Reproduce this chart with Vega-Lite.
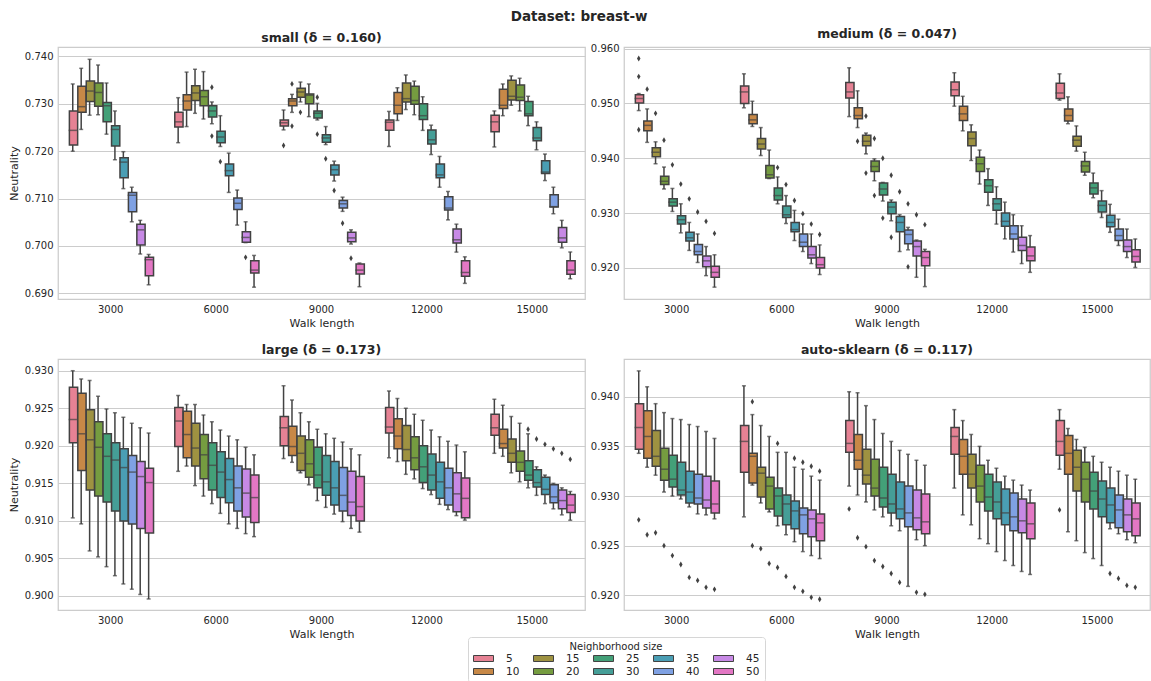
{
"$schema": "https://vega.github.io/schema/vega-lite/v6.json",
"background": "white",
"padding": {"left": 7, "top": 9, "right": 0, "bottom": 0},
"title": {"text": "Dataset: breast-w", "fontSize": 13.5, "fontWeight": "bold", "anchor": "middle", "offset": 4, "color": "#262626"},
"datasets": {
"box": [
{"p":"small","w":3000,"n":5,"lo":0.7200,"q1":0.7213,"md":0.7244,"q3":0.7285,"hi":0.7342},
{"p":"small","w":3000,"n":10,"lo":0.7246,"q1":0.7282,"md":0.7294,"q3":0.7337,"hi":0.7375},
{"p":"small","w":3000,"n":15,"lo":0.7276,"q1":0.7305,"md":0.7327,"q3":0.7348,"hi":0.7394},
{"p":"small","w":3000,"n":20,"lo":0.7277,"q1":0.7295,"md":0.7324,"q3":0.7344,"hi":0.7382},
{"p":"small","w":3000,"n":25,"lo":0.7236,"q1":0.7262,"md":0.7296,"q3":0.7303,"hi":0.7344},
{"p":"small","w":3000,"n":30,"lo":0.7182,"q1":0.7211,"md":0.7246,"q3":0.7254,"hi":0.7285},
{"p":"small","w":3000,"n":35,"lo":0.7121,"q1":0.7144,"md":0.7177,"q3":0.7186,"hi":0.7199},
{"p":"small","w":3000,"n":40,"lo":0.7051,"q1":0.7072,"md":0.7107,"q3":0.7113,"hi":0.7124},
{"p":"small","w":3000,"n":45,"lo":0.6983,"q1":0.7002,"md":0.7034,"q3":0.7046,"hi":0.7054},
{"p":"small","w":3000,"n":50,"lo":0.6918,"q1":0.6937,"md":0.6971,"q3":0.6976,"hi":0.6982},
{"p":"small","w":6000,"n":5,"lo":0.7218,"q1":0.7251,"md":0.7262,"q3":0.7282,"hi":0.7313},
{"p":"small","w":6000,"n":10,"lo":0.7252,"q1":0.7287,"md":0.7306,"q3":0.7319,"hi":0.7367},
{"p":"small","w":6000,"n":15,"lo":0.7280,"q1":0.7307,"md":0.7323,"q3":0.7338,"hi":0.7373},
{"p":"small","w":6000,"n":20,"lo":0.7268,"q1":0.7296,"md":0.7315,"q3":0.7328,"hi":0.7368},
{"p":"small","w":6000,"n":25,"lo":0.7258,"q1":0.7272,"md":0.7285,"q3":0.7296,"hi":0.7304},
{"p":"small","w":6000,"n":30,"lo":0.7210,"q1":0.7218,"md":0.7230,"q3":0.7242,"hi":0.7275},
{"p":"small","w":6000,"n":35,"lo":0.7113,"q1":0.7148,"md":0.7159,"q3":0.7173,"hi":0.7196},
{"p":"small","w":6000,"n":40,"lo":0.7044,"q1":0.7077,"md":0.7090,"q3":0.7101,"hi":0.7118},
{"p":"small","w":6000,"n":45,"lo":0.7007,"q1":0.7008,"md":0.7018,"q3":0.7030,"hi":0.7051},
{"p":"small","w":6000,"n":50,"lo":0.6913,"q1":0.6943,"md":0.6949,"q3":0.6969,"hi":0.6980},
{"p":"small","w":9000,"n":5,"lo":0.7245,"q1":0.7253,"md":0.7260,"q3":0.7266,"hi":0.7287},
{"p":"small","w":9000,"n":10,"lo":0.7282,"q1":0.7296,"md":0.7306,"q3":0.7311,"hi":0.7320},
{"p":"small","w":9000,"n":15,"lo":0.7304,"q1":0.7314,"md":0.7325,"q3":0.7333,"hi":0.7346},
{"p":"small","w":9000,"n":20,"lo":0.7273,"q1":0.7300,"md":0.7318,"q3":0.7321,"hi":0.7342},
{"p":"small","w":9000,"n":25,"lo":0.7266,"q1":0.7270,"md":0.7280,"q3":0.7285,"hi":0.7301},
{"p":"small","w":9000,"n":30,"lo":0.7214,"q1":0.7219,"md":0.7228,"q3":0.7235,"hi":0.7252},
{"p":"small","w":9000,"n":35,"lo":0.7137,"q1":0.7150,"md":0.7161,"q3":0.7171,"hi":0.7179},
{"p":"small","w":9000,"n":40,"lo":0.7073,"q1":0.7080,"md":0.7089,"q3":0.7096,"hi":0.7103},
{"p":"small","w":9000,"n":45,"lo":0.7004,"q1":0.7009,"md":0.7017,"q3":0.7029,"hi":0.7034},
{"p":"small","w":9000,"n":50,"lo":0.6914,"q1":0.6941,"md":0.6949,"q3":0.6962,"hi":0.6964},
{"p":"small","w":12000,"n":5,"lo":0.7210,"q1":0.7244,"md":0.7261,"q3":0.7266,"hi":0.7284},
{"p":"small","w":12000,"n":10,"lo":0.7265,"q1":0.7279,"md":0.7297,"q3":0.7324,"hi":0.7334},
{"p":"small","w":12000,"n":15,"lo":0.7288,"q1":0.7304,"md":0.7311,"q3":0.7344,"hi":0.7361},
{"p":"small","w":12000,"n":20,"lo":0.7277,"q1":0.7299,"md":0.7307,"q3":0.7337,"hi":0.7348},
{"p":"small","w":12000,"n":25,"lo":0.7244,"q1":0.7267,"md":0.7275,"q3":0.7300,"hi":0.7315},
{"p":"small","w":12000,"n":30,"lo":0.7193,"q1":0.7215,"md":0.7224,"q3":0.7245,"hi":0.7255},
{"p":"small","w":12000,"n":35,"lo":0.7124,"q1":0.7144,"md":0.7150,"q3":0.7173,"hi":0.7189},
{"p":"small","w":12000,"n":40,"lo":0.7055,"q1":0.7076,"md":0.7080,"q3":0.7104,"hi":0.7115},
{"p":"small","w":12000,"n":45,"lo":0.6987,"q1":0.7006,"md":0.7013,"q3":0.7036,"hi":0.7046},
{"p":"small","w":12000,"n":50,"lo":0.6921,"q1":0.6936,"md":0.6944,"q3":0.6969,"hi":0.6977},
{"p":"small","w":15000,"n":5,"lo":0.7209,"q1":0.7241,"md":0.7262,"q3":0.7276,"hi":0.7285},
{"p":"small","w":15000,"n":10,"lo":0.7275,"q1":0.7290,"md":0.7297,"q3":0.7331,"hi":0.7342},
{"p":"small","w":15000,"n":15,"lo":0.7297,"q1":0.7308,"md":0.7316,"q3":0.7350,"hi":0.7359},
{"p":"small","w":15000,"n":20,"lo":0.7285,"q1":0.7307,"md":0.7314,"q3":0.7340,"hi":0.7354},
{"p":"small","w":15000,"n":25,"lo":0.7254,"q1":0.7275,"md":0.7279,"q3":0.7305,"hi":0.7316},
{"p":"small","w":15000,"n":30,"lo":0.7203,"q1":0.7222,"md":0.7228,"q3":0.7250,"hi":0.7262},
{"p":"small","w":15000,"n":35,"lo":0.7138,"q1":0.7153,"md":0.7156,"q3":0.7180,"hi":0.7194},
{"p":"small","w":15000,"n":40,"lo":0.7068,"q1":0.7082,"md":0.7083,"q3":0.7108,"hi":0.7124},
{"p":"small","w":15000,"n":45,"lo":0.6996,"q1":0.7008,"md":0.7017,"q3":0.7039,"hi":0.7054},
{"p":"small","w":15000,"n":50,"lo":0.6931,"q1":0.6940,"md":0.6949,"q3":0.6969,"hi":0.6987},
{"p":"medium","w":3000,"n":5,"lo":0.9487,"q1":0.9501,"md":0.9509,"q3":0.9516,"hi":0.9518},
{"p":"medium","w":3000,"n":10,"lo":0.9429,"q1":0.9450,"md":0.9460,"q3":0.9468,"hi":0.9490},
{"p":"medium","w":3000,"n":15,"lo":0.9390,"q1":0.9403,"md":0.9411,"q3":0.9419,"hi":0.9430},
{"p":"medium","w":3000,"n":20,"lo":0.9344,"q1":0.9352,"md":0.9358,"q3":0.9367,"hi":0.9384},
{"p":"medium","w":3000,"n":25,"lo":0.9303,"q1":0.9313,"md":0.9320,"q3":0.9326,"hi":0.9345},
{"p":"medium","w":3000,"n":30,"lo":0.9264,"q1":0.9280,"md":0.9288,"q3":0.9295,"hi":0.9317},
{"p":"medium","w":3000,"n":35,"lo":0.9232,"q1":0.9249,"md":0.9255,"q3":0.9265,"hi":0.9283},
{"p":"medium","w":3000,"n":40,"lo":0.9210,"q1":0.9224,"md":0.9230,"q3":0.9243,"hi":0.9262},
{"p":"medium","w":3000,"n":45,"lo":0.9186,"q1":0.9202,"md":0.9213,"q3":0.9222,"hi":0.9239},
{"p":"medium","w":3000,"n":50,"lo":0.9165,"q1":0.9183,"md":0.9192,"q3":0.9203,"hi":0.9224},
{"p":"medium","w":6000,"n":5,"lo":0.9492,"q1":0.9500,"md":0.9521,"q3":0.9532,"hi":0.9554},
{"p":"medium","w":6000,"n":10,"lo":0.9458,"q1":0.9463,"md":0.9470,"q3":0.9480,"hi":0.9504},
{"p":"medium","w":6000,"n":15,"lo":0.9405,"q1":0.9417,"md":0.9426,"q3":0.9436,"hi":0.9456},
{"p":"medium","w":6000,"n":20,"lo":0.9363,"q1":0.9364,"md":0.9370,"q3":0.9387,"hi":0.9415},
{"p":"medium","w":6000,"n":25,"lo":0.9317,"q1":0.9324,"md":0.9332,"q3":0.9346,"hi":0.9366},
{"p":"medium","w":6000,"n":30,"lo":0.9281,"q1":0.9292,"md":0.9297,"q3":0.9313,"hi":0.9332},
{"p":"medium","w":6000,"n":35,"lo":0.9250,"q1":0.9266,"md":0.9270,"q3":0.9283,"hi":0.9305},
{"p":"medium","w":6000,"n":40,"lo":0.9230,"q1":0.9239,"md":0.9247,"q3":0.9262,"hi":0.9280},
{"p":"medium","w":6000,"n":45,"lo":0.9208,"q1":0.9218,"md":0.9224,"q3":0.9239,"hi":0.9262},
{"p":"medium","w":6000,"n":50,"lo":0.9188,"q1":0.9200,"md":0.9206,"q3":0.9219,"hi":0.9242},
{"p":"medium","w":9000,"n":5,"lo":0.9476,"q1":0.9510,"md":0.9521,"q3":0.9538,"hi":0.9565},
{"p":"medium","w":9000,"n":10,"lo":0.9456,"q1":0.9472,"md":0.9478,"q3":0.9492,"hi":0.9523},
{"p":"medium","w":9000,"n":15,"lo":0.9408,"q1":0.9423,"md":0.9431,"q3":0.9442,"hi":0.9446},
{"p":"medium","w":9000,"n":20,"lo":0.9359,"q1":0.9376,"md":0.9385,"q3":0.9395,"hi":0.9399},
{"p":"medium","w":9000,"n":25,"lo":0.9322,"q1":0.9333,"md":0.9344,"q3":0.9355,"hi":0.9356},
{"p":"medium","w":9000,"n":30,"lo":0.9286,"q1":0.9299,"md":0.9311,"q3":0.9320,"hi":0.9324},
{"p":"medium","w":9000,"n":35,"lo":0.9230,"q1":0.9266,"md":0.9283,"q3":0.9294,"hi":0.9297},
{"p":"medium","w":9000,"n":40,"lo":0.9233,"q1":0.9244,"md":0.9261,"q3":0.9269,"hi":0.9274},
{"p":"medium","w":9000,"n":45,"lo":0.9183,"q1":0.9222,"md":0.9239,"q3":0.9249,"hi":0.9251},
{"p":"medium","w":9000,"n":50,"lo":0.9166,"q1":0.9204,"md":0.9219,"q3":0.9230,"hi":0.9234},
{"p":"medium","w":12000,"n":5,"lo":0.9495,"q1":0.9514,"md":0.9525,"q3":0.9539,"hi":0.9556},
{"p":"medium","w":12000,"n":10,"lo":0.9450,"q1":0.9469,"md":0.9481,"q3":0.9495,"hi":0.9513},
{"p":"medium","w":12000,"n":15,"lo":0.9396,"q1":0.9423,"md":0.9436,"q3":0.9448,"hi":0.9461},
{"p":"medium","w":12000,"n":20,"lo":0.9353,"q1":0.9376,"md":0.9390,"q3":0.9402,"hi":0.9415},
{"p":"medium","w":12000,"n":25,"lo":0.9314,"q1":0.9338,"md":0.9350,"q3":0.9361,"hi":0.9381},
{"p":"medium","w":12000,"n":30,"lo":0.9280,"q1":0.9305,"md":0.9317,"q3":0.9326,"hi":0.9348},
{"p":"medium","w":12000,"n":35,"lo":0.9253,"q1":0.9276,"md":0.9285,"q3":0.9300,"hi":0.9320},
{"p":"medium","w":12000,"n":40,"lo":0.9229,"q1":0.9253,"md":0.9262,"q3":0.9277,"hi":0.9297},
{"p":"medium","w":12000,"n":45,"lo":0.9208,"q1":0.9232,"md":0.9241,"q3":0.9256,"hi":0.9277},
{"p":"medium","w":12000,"n":50,"lo":0.9192,"q1":0.9213,"md":0.9222,"q3":0.9238,"hi":0.9259},
{"p":"medium","w":15000,"n":5,"lo":0.9506,"q1":0.9509,"md":0.9519,"q3":0.9537,"hi":0.9554},
{"p":"medium","w":15000,"n":10,"lo":0.9463,"q1":0.9468,"md":0.9478,"q3":0.9490,"hi":0.9512},
{"p":"medium","w":15000,"n":15,"lo":0.9413,"q1":0.9422,"md":0.9433,"q3":0.9440,"hi":0.9459},
{"p":"medium","w":15000,"n":20,"lo":0.9369,"q1":0.9375,"md":0.9386,"q3":0.9394,"hi":0.9411},
{"p":"medium","w":15000,"n":25,"lo":0.9328,"q1":0.9335,"md":0.9346,"q3":0.9355,"hi":0.9373},
{"p":"medium","w":15000,"n":30,"lo":0.9292,"q1":0.9302,"md":0.9314,"q3":0.9322,"hi":0.9341},
{"p":"medium","w":15000,"n":35,"lo":0.9265,"q1":0.9275,"md":0.9283,"q3":0.9296,"hi":0.9316},
{"p":"medium","w":15000,"n":40,"lo":0.9241,"q1":0.9250,"md":0.9259,"q3":0.9271,"hi":0.9289},
{"p":"medium","w":15000,"n":45,"lo":0.9219,"q1":0.9230,"md":0.9239,"q3":0.9251,"hi":0.9271},
{"p":"medium","w":15000,"n":50,"lo":0.9201,"q1":0.9211,"md":0.9221,"q3":0.9233,"hi":0.9253},
{"p":"large","w":3000,"n":5,"lo":0.9104,"q1":0.9204,"md":0.9235,"q3":0.9278,"hi":0.9300},
{"p":"large","w":3000,"n":10,"lo":0.9096,"q1":0.9167,"md":0.9216,"q3":0.9270,"hi":0.9289},
{"p":"large","w":3000,"n":15,"lo":0.9060,"q1":0.9141,"md":0.9208,"q3":0.9248,"hi":0.9287},
{"p":"large","w":3000,"n":20,"lo":0.9052,"q1":0.9133,"md":0.9198,"q3":0.9232,"hi":0.9266},
{"p":"large","w":3000,"n":25,"lo":0.9039,"q1":0.9125,"md":0.9186,"q3":0.9216,"hi":0.9249},
{"p":"large","w":3000,"n":30,"lo":0.9027,"q1":0.9113,"md":0.9181,"q3":0.9204,"hi":0.9244},
{"p":"large","w":3000,"n":35,"lo":0.9016,"q1":0.9100,"md":0.9171,"q3":0.9196,"hi":0.9238},
{"p":"large","w":3000,"n":40,"lo":0.9009,"q1":0.9096,"md":0.9165,"q3":0.9187,"hi":0.9230},
{"p":"large","w":3000,"n":45,"lo":0.9002,"q1":0.9090,"md":0.9159,"q3":0.9179,"hi":0.9224},
{"p":"large","w":3000,"n":50,"lo":0.8996,"q1":0.9084,"md":0.9151,"q3":0.9170,"hi":0.9217},
{"p":"large","w":6000,"n":5,"lo":0.9166,"q1":0.9199,"md":0.9233,"q3":0.9251,"hi":0.9267},
{"p":"large","w":6000,"n":10,"lo":0.9173,"q1":0.9184,"md":0.9215,"q3":0.9246,"hi":0.9255},
{"p":"large","w":6000,"n":15,"lo":0.9147,"q1":0.9173,"md":0.9197,"q3":0.9230,"hi":0.9255},
{"p":"large","w":6000,"n":20,"lo":0.9133,"q1":0.9156,"md":0.9188,"q3":0.9215,"hi":0.9241},
{"p":"large","w":6000,"n":25,"lo":0.9123,"q1":0.9141,"md":0.9174,"q3":0.9204,"hi":0.9232},
{"p":"large","w":6000,"n":30,"lo":0.9110,"q1":0.9131,"md":0.9165,"q3":0.9192,"hi":0.9221},
{"p":"large","w":6000,"n":35,"lo":0.9096,"q1":0.9124,"md":0.9155,"q3":0.9183,"hi":0.9213},
{"p":"large","w":6000,"n":40,"lo":0.9090,"q1":0.9113,"md":0.9144,"q3":0.9173,"hi":0.9208},
{"p":"large","w":6000,"n":45,"lo":0.9083,"q1":0.9105,"md":0.9137,"q3":0.9169,"hi":0.9198},
{"p":"large","w":6000,"n":50,"lo":0.9079,"q1":0.9098,"md":0.9131,"q3":0.9161,"hi":0.9188},
{"p":"large","w":9000,"n":5,"lo":0.9183,"q1":0.9200,"md":0.9224,"q3":0.9239,"hi":0.9280},
{"p":"large","w":9000,"n":10,"lo":0.9178,"q1":0.9187,"md":0.9199,"q3":0.9226,"hi":0.9261},
{"p":"large","w":9000,"n":15,"lo":0.9164,"q1":0.9167,"md":0.9190,"q3":0.9213,"hi":0.9244},
{"p":"large","w":9000,"n":20,"lo":0.9148,"q1":0.9158,"md":0.9176,"q3":0.9208,"hi":0.9232},
{"p":"large","w":9000,"n":25,"lo":0.9127,"q1":0.9144,"md":0.9161,"q3":0.9198,"hi":0.9222},
{"p":"large","w":9000,"n":30,"lo":0.9118,"q1":0.9134,"md":0.9152,"q3":0.9187,"hi":0.9216},
{"p":"large","w":9000,"n":35,"lo":0.9109,"q1":0.9121,"md":0.9144,"q3":0.9179,"hi":0.9210},
{"p":"large","w":9000,"n":40,"lo":0.9099,"q1":0.9113,"md":0.9134,"q3":0.9171,"hi":0.9205},
{"p":"large","w":9000,"n":45,"lo":0.9090,"q1":0.9107,"md":0.9125,"q3":0.9166,"hi":0.9196},
{"p":"large","w":9000,"n":50,"lo":0.9085,"q1":0.9100,"md":0.9119,"q3":0.9159,"hi":0.9188},
{"p":"large","w":12000,"n":5,"lo":0.9184,"q1":0.9217,"md":0.9225,"q3":0.9251,"hi":0.9273},
{"p":"large","w":12000,"n":10,"lo":0.9179,"q1":0.9196,"md":0.9213,"q3":0.9236,"hi":0.9263},
{"p":"large","w":12000,"n":15,"lo":0.9162,"q1":0.9180,"md":0.9195,"q3":0.9227,"hi":0.9250},
{"p":"large","w":12000,"n":20,"lo":0.9156,"q1":0.9168,"md":0.9184,"q3":0.9212,"hi":0.9242},
{"p":"large","w":12000,"n":25,"lo":0.9143,"q1":0.9151,"md":0.9172,"q3":0.9200,"hi":0.9234},
{"p":"large","w":12000,"n":30,"lo":0.9135,"q1":0.9141,"md":0.9161,"q3":0.9189,"hi":0.9221},
{"p":"large","w":12000,"n":35,"lo":0.9122,"q1":0.9130,"md":0.9152,"q3":0.9178,"hi":0.9212},
{"p":"large","w":12000,"n":40,"lo":0.9115,"q1":0.9121,"md":0.9144,"q3":0.9170,"hi":0.9206},
{"p":"large","w":12000,"n":45,"lo":0.9107,"q1":0.9112,"md":0.9136,"q3":0.9164,"hi":0.9201},
{"p":"large","w":12000,"n":50,"lo":0.9101,"q1":0.9104,"md":0.9130,"q3":0.9157,"hi":0.9192},
{"p":"large","w":15000,"n":5,"lo":0.9190,"q1":0.9214,"md":0.9224,"q3":0.9242,"hi":0.9262},
{"p":"large","w":15000,"n":10,"lo":0.9186,"q1":0.9197,"md":0.9203,"q3":0.9222,"hi":0.9254},
{"p":"large","w":15000,"n":15,"lo":0.9164,"q1":0.9178,"md":0.9190,"q3":0.9209,"hi":0.9239},
{"p":"large","w":15000,"n":20,"lo":0.9152,"q1":0.9166,"md":0.9178,"q3":0.9193,"hi":0.9230},
{"p":"large","w":15000,"n":25,"lo":0.9144,"q1":0.9154,"md":0.9161,"q3":0.9180,"hi":0.9216},
{"p":"large","w":15000,"n":30,"lo":0.9134,"q1":0.9145,"md":0.9151,"q3":0.9168,"hi":0.9172},
{"p":"large","w":15000,"n":35,"lo":0.9123,"q1":0.9135,"md":0.9142,"q3":0.9158,"hi":0.9161},
{"p":"large","w":15000,"n":40,"lo":0.9116,"q1":0.9124,"md":0.9132,"q3":0.9148,"hi":0.9150},
{"p":"large","w":15000,"n":45,"lo":0.9108,"q1":0.9116,"md":0.9127,"q3":0.9141,"hi":0.9144},
{"p":"large","w":15000,"n":50,"lo":0.9101,"q1":0.9111,"md":0.9121,"q3":0.9135,"hi":0.9139},
{"p":"auto","w":3000,"n":5,"lo":0.9343,"q1":0.9347,"md":0.9369,"q3":0.9393,"hi":0.9426},
{"p":"auto","w":3000,"n":10,"lo":0.9329,"q1":0.9338,"md":0.9360,"q3":0.9386,"hi":0.9410},
{"p":"auto","w":3000,"n":15,"lo":0.9321,"q1":0.9330,"md":0.9340,"q3":0.9366,"hi":0.9393},
{"p":"auto","w":3000,"n":20,"lo":0.9304,"q1":0.9316,"md":0.9327,"q3":0.9348,"hi":0.9384},
{"p":"auto","w":3000,"n":25,"lo":0.9300,"q1":0.9309,"md":0.9317,"q3":0.9341,"hi":0.9378},
{"p":"auto","w":3000,"n":30,"lo":0.9297,"q1":0.9301,"md":0.9306,"q3":0.9334,"hi":0.9377},
{"p":"auto","w":3000,"n":35,"lo":0.9289,"q1":0.9293,"md":0.9304,"q3":0.9325,"hi":0.9372},
{"p":"auto","w":3000,"n":40,"lo":0.9282,"q1":0.9292,"md":0.9298,"q3":0.9322,"hi":0.9370},
{"p":"auto","w":3000,"n":45,"lo":0.9281,"q1":0.9288,"md":0.9296,"q3":0.9320,"hi":0.9365},
{"p":"auto","w":3000,"n":50,"lo":0.9277,"q1":0.9283,"md":0.9292,"q3":0.9315,"hi":0.9358},
{"p":"auto","w":6000,"n":5,"lo":0.9279,"q1":0.9324,"md":0.9355,"q3":0.9371,"hi":0.9411},
{"p":"auto","w":6000,"n":10,"lo":0.9311,"q1":0.9313,"md":0.9340,"q3":0.9343,"hi":0.9382},
{"p":"auto","w":6000,"n":15,"lo":0.9293,"q1":0.9299,"md":0.9323,"q3":0.9329,"hi":0.9371},
{"p":"auto","w":6000,"n":20,"lo":0.9284,"q1":0.9287,"md":0.9310,"q3":0.9319,"hi":0.9360},
{"p":"auto","w":6000,"n":25,"lo":0.9270,"q1":0.9280,"md":0.9300,"q3":0.9308,"hi":0.9344},
{"p":"auto","w":6000,"n":30,"lo":0.9261,"q1":0.9271,"md":0.9292,"q3":0.9301,"hi":0.9344},
{"p":"auto","w":6000,"n":35,"lo":0.9254,"q1":0.9267,"md":0.9285,"q3":0.9295,"hi":0.9329},
{"p":"auto","w":6000,"n":40,"lo":0.9244,"q1":0.9262,"md":0.9281,"q3":0.9288,"hi":0.9327},
{"p":"auto","w":6000,"n":45,"lo":0.9240,"q1":0.9259,"md":0.9277,"q3":0.9286,"hi":0.9320},
{"p":"auto","w":6000,"n":50,"lo":0.9237,"q1":0.9255,"md":0.9273,"q3":0.9282,"hi":0.9316},
{"p":"auto","w":9000,"n":5,"lo":0.9310,"q1":0.9344,"md":0.9353,"q3":0.9376,"hi":0.9405},
{"p":"auto","w":9000,"n":10,"lo":0.9301,"q1":0.9327,"md":0.9336,"q3":0.9362,"hi":0.9404},
{"p":"auto","w":9000,"n":15,"lo":0.9294,"q1":0.9312,"md":0.9321,"q3":0.9347,"hi":0.9391},
{"p":"auto","w":9000,"n":20,"lo":0.9286,"q1":0.9300,"md":0.9308,"q3":0.9337,"hi":0.9377},
{"p":"auto","w":9000,"n":25,"lo":0.9279,"q1":0.9289,"md":0.9298,"q3":0.9329,"hi":0.9363},
{"p":"auto","w":9000,"n":30,"lo":0.9270,"q1":0.9283,"md":0.9292,"q3":0.9322,"hi":0.9355},
{"p":"auto","w":9000,"n":35,"lo":0.9265,"q1":0.9277,"md":0.9287,"q3":0.9314,"hi":0.9346},
{"p":"auto","w":9000,"n":40,"lo":0.9209,"q1":0.9269,"md":0.9283,"q3":0.9310,"hi":0.9342},
{"p":"auto","w":9000,"n":45,"lo":0.9256,"q1":0.9266,"md":0.9278,"q3":0.9306,"hi":0.9336},
{"p":"auto","w":9000,"n":50,"lo":0.9250,"q1":0.9262,"md":0.9274,"q3":0.9302,"hi":0.9331},
{"p":"auto","w":12000,"n":5,"lo":0.9308,"q1":0.9342,"md":0.9360,"q3":0.9369,"hi":0.9387},
{"p":"auto","w":12000,"n":10,"lo":0.9281,"q1":0.9322,"md":0.9340,"q3":0.9357,"hi":0.9376},
{"p":"auto","w":12000,"n":15,"lo":0.9271,"q1":0.9308,"md":0.9322,"q3":0.9342,"hi":0.9362},
{"p":"auto","w":12000,"n":20,"lo":0.9257,"q1":0.9294,"md":0.9310,"q3":0.9331,"hi":0.9350},
{"p":"auto","w":12000,"n":25,"lo":0.9252,"q1":0.9285,"md":0.9299,"q3":0.9322,"hi":0.9336},
{"p":"auto","w":12000,"n":30,"lo":0.9244,"q1":0.9277,"md":0.9294,"q3":0.9314,"hi":0.9328},
{"p":"auto","w":12000,"n":35,"lo":0.9235,"q1":0.9271,"md":0.9283,"q3":0.9307,"hi":0.9320},
{"p":"auto","w":12000,"n":40,"lo":0.9230,"q1":0.9265,"md":0.9279,"q3":0.9303,"hi":0.9316},
{"p":"auto","w":12000,"n":45,"lo":0.9224,"q1":0.9263,"md":0.9275,"q3":0.9297,"hi":0.9311},
{"p":"auto","w":12000,"n":50,"lo":0.9221,"q1":0.9257,"md":0.9272,"q3":0.9293,"hi":0.9306},
{"p":"auto","w":15000,"n":5,"lo":0.9327,"q1":0.9341,"md":0.9355,"q3":0.9376,"hi":0.9387},
{"p":"auto","w":15000,"n":10,"lo":0.9264,"q1":0.9322,"md":0.9343,"q3":0.9361,"hi":0.9368},
{"p":"auto","w":15000,"n":15,"lo":0.9255,"q1":0.9305,"md":0.9329,"q3":0.9346,"hi":0.9357},
{"p":"auto","w":15000,"n":20,"lo":0.9243,"q1":0.9294,"md":0.9317,"q3":0.9334,"hi":0.9349},
{"p":"auto","w":15000,"n":25,"lo":0.9237,"q1":0.9287,"md":0.9305,"q3":0.9324,"hi":0.9340},
{"p":"auto","w":15000,"n":30,"lo":0.9230,"q1":0.9279,"md":0.9297,"q3":0.9315,"hi":0.9334},
{"p":"auto","w":15000,"n":35,"lo":0.9267,"q1":0.9273,"md":0.9291,"q3":0.9308,"hi":0.9329},
{"p":"auto","w":15000,"n":40,"lo":0.9262,"q1":0.9268,"md":0.9286,"q3":0.9301,"hi":0.9325},
{"p":"auto","w":15000,"n":45,"lo":0.9256,"q1":0.9264,"md":0.9281,"q3":0.9297,"hi":0.9321},
{"p":"auto","w":15000,"n":50,"lo":0.9253,"q1":0.9260,"md":0.9277,"q3":0.9293,"hi":0.9317}
],
"out": [
{"p":"small","w":6000,"n":25,"v":0.7335},{"p":"small","w":6000,"n":25,"v":0.7232},{"p":"small","w":6000,"n":30,"v":0.7178},{"p":"small","w":6000,"n":45,"v":0.6976},
{"p":"small","w":9000,"n":5,"v":0.7212},{"p":"small","w":9000,"n":10,"v":0.7342},{"p":"small","w":9000,"n":10,"v":0.7253},{"p":"small","w":9000,"n":15,"v":0.7282},{"p":"small","w":9000,"n":25,"v":0.7314},{"p":"small","w":9000,"n":25,"v":0.7236},{"p":"small","w":9000,"n":30,"v":0.7184},{"p":"small","w":9000,"n":35,"v":0.7117},{"p":"small","w":9000,"n":40,"v":0.7048},{"p":"small","w":9000,"n":45,"v":0.6974},
{"p":"medium","w":3000,"n":5,"v":0.9582},{"p":"medium","w":3000,"n":5,"v":0.9549},{"p":"medium","w":3000,"n":5,"v":0.9452},{"p":"medium","w":3000,"n":10,"v":0.9526},{"p":"medium","w":3000,"n":15,"v":0.9482},{"p":"medium","w":3000,"n":20,"v":0.9433},{"p":"medium","w":3000,"n":25,"v":0.9388},{"p":"medium","w":3000,"n":30,"v":0.9353},{"p":"medium","w":3000,"n":35,"v":0.9326},{"p":"medium","w":3000,"n":40,"v":0.9302},{"p":"medium","w":3000,"n":45,"v":0.9285},{"p":"medium","w":3000,"n":50,"v":0.9263},
{"p":"medium","w":6000,"n":25,"v":0.9383},{"p":"medium","w":6000,"n":30,"v":0.9352},{"p":"medium","w":6000,"n":35,"v":0.9323},{"p":"medium","w":6000,"n":40,"v":0.9299},{"p":"medium","w":6000,"n":45,"v":0.9280},{"p":"medium","w":6000,"n":50,"v":0.9261},
{"p":"medium","w":9000,"n":10,"v":0.9431},{"p":"medium","w":9000,"n":15,"v":0.9477},{"p":"medium","w":9000,"n":15,"v":0.9373},{"p":"medium","w":9000,"n":20,"v":0.9436},{"p":"medium","w":9000,"n":20,"v":0.9332},{"p":"medium","w":9000,"n":25,"v":0.9400},{"p":"medium","w":9000,"n":25,"v":0.9291},{"p":"medium","w":9000,"n":30,"v":0.9369},{"p":"medium","w":9000,"n":30,"v":0.9256},{"p":"medium","w":9000,"n":35,"v":0.9339},{"p":"medium","w":9000,"n":40,"v":0.9317},{"p":"medium","w":9000,"n":40,"v":0.9202},{"p":"medium","w":9000,"n":45,"v":0.9297},{"p":"medium","w":9000,"n":50,"v":0.9279},
{"p":"large","w":15000,"n":25,"v":0.9222},{"p":"large","w":15000,"n":30,"v":0.9209},{"p":"large","w":15000,"n":35,"v":0.9202},{"p":"large","w":15000,"n":40,"v":0.9196},{"p":"large","w":15000,"n":45,"v":0.9190},{"p":"large","w":15000,"n":50,"v":0.9182},
{"p":"auto","w":3000,"n":5,"v":0.9276},{"p":"auto","w":3000,"n":10,"v":0.9261},{"p":"auto","w":3000,"n":15,"v":0.9263},{"p":"auto","w":3000,"n":20,"v":0.9250},{"p":"auto","w":3000,"n":25,"v":0.9240},{"p":"auto","w":3000,"n":30,"v":0.9231},{"p":"auto","w":3000,"n":35,"v":0.9218},{"p":"auto","w":3000,"n":40,"v":0.9215},{"p":"auto","w":3000,"n":45,"v":0.9208},{"p":"auto","w":3000,"n":50,"v":0.9206},
{"p":"auto","w":6000,"n":10,"v":0.9395},{"p":"auto","w":6000,"n":10,"v":0.9250},{"p":"auto","w":6000,"n":15,"v":0.9247},{"p":"auto","w":6000,"n":20,"v":0.9232},{"p":"auto","w":6000,"n":25,"v":0.9353},{"p":"auto","w":6000,"n":25,"v":0.9228},{"p":"auto","w":6000,"n":30,"v":0.9219},{"p":"auto","w":6000,"n":35,"v":0.9338},{"p":"auto","w":6000,"n":35,"v":0.9208},{"p":"auto","w":6000,"n":40,"v":0.9334},{"p":"auto","w":6000,"n":40,"v":0.9204},{"p":"auto","w":6000,"n":45,"v":0.9330},{"p":"auto","w":6000,"n":45,"v":0.9198},{"p":"auto","w":6000,"n":50,"v":0.9325},{"p":"auto","w":6000,"n":50,"v":0.9196},
{"p":"auto","w":9000,"n":5,"v":0.9287},{"p":"auto","w":9000,"n":10,"v":0.9258},{"p":"auto","w":9000,"n":15,"v":0.9249},{"p":"auto","w":9000,"n":20,"v":0.9235},{"p":"auto","w":9000,"n":25,"v":0.9229},{"p":"auto","w":9000,"n":30,"v":0.9222},{"p":"auto","w":9000,"n":35,"v":0.9213},{"p":"auto","w":9000,"n":45,"v":0.9203},{"p":"auto","w":9000,"n":50,"v":0.9201},
{"p":"auto","w":15000,"n":5,"v":0.9286},{"p":"auto","w":15000,"n":35,"v":0.9222},{"p":"auto","w":15000,"n":40,"v":0.9217},{"p":"auto","w":15000,"n":45,"v":0.9210},{"p":"auto","w":15000,"n":50,"v":0.9208}
]
},
"columns": 2,
"spacing": {"column": 3, "row": 13},
"concat": [
{"title": "small (δ = 0.160)", "width": 527, "height": 252,
 "encoding": {"x": {"field": "w", "type": "ordinal", "title": "Walk length", "scale": {"paddingInner": 0.2, "paddingOuter": 0.1}}, "xOffset": {"field": "n", "type": "ordinal", "scale": {"paddingInner": 0, "paddingOuter": 0}}},
 "layer": [
  {"data": {"name": "box"}, "transform": [{"filter": "datum.p == 'small'"}], "mark": {"type": "rule", "color": "#424242", "strokeWidth": 1.5},
   "encoding": {"y": {"field": "lo", "type": "quantitative", "title": "Neutrality", "scale": {"domain": [0.6888, 0.742], "nice": false, "zero": false}, "axis": {"values": [0.69, 0.70, 0.71, 0.72, 0.73, 0.74], "format": ".3f"}}, "y2": {"field": "hi"}}},
  {"data": {"name": "box"}, "transform": [{"filter": "datum.p == 'small'"}], "mark": {"type": "tick", "color": "#424242", "thickness": 1.5, "size": 4},
   "encoding": {"y": {"field": "lo", "type": "quantitative", "title": "Neutrality", "scale": {"domain": [0.6888, 0.742], "nice": false, "zero": false}}}},
  {"data": {"name": "box"}, "transform": [{"filter": "datum.p == 'small'"}], "mark": {"type": "tick", "color": "#424242", "thickness": 1.5, "size": 4},
   "encoding": {"y": {"field": "hi", "type": "quantitative", "title": "Neutrality", "scale": {"domain": [0.6888, 0.742], "nice": false, "zero": false}}}},
  {"data": {"name": "box"}, "transform": [{"filter": "datum.p == 'small'"}], "mark": {"type": "bar", "stroke": "#424242", "strokeWidth": 1.5, "width": {"band": 0.98}},
   "encoding": {"y": {"field": "q1", "type": "quantitative", "title": "Neutrality", "scale": {"domain": [0.6888, 0.742], "nice": false, "zero": false}}, "y2": {"field": "q3"},
    "color": {"field": "n", "type": "nominal", "scale": {"domain": [5, 15, 25, 35, 45, 10, 20, 30, 40, 50], "range": ["#e68294", "#9e9241", "#43a078", "#4a9eb4", "#c789e5", "#c78847", "#759c40", "#459e97", "#7fa1e3", "#e377c4"]},
     "legend": {"title": "Neighborhood size", "orient": "none", "legendX": 410, "legendY": 590, "direction": "horizontal", "columns": 5, "titleAnchor": "middle", "titleFontSize": 10, "titleFontWeight": "normal", "titleColor": "#262626", "labelFontSize": 10.5, "labelColor": "#262626", "symbolType": "M-2,-0.6L2,-0.6L2,0.6L-2,0.6Z", "symbolSize": 100, "symbolOffset": 5, "symbolStrokeColor": "#424242", "symbolStrokeWidth": 1, "symbolOpacity": 1, "strokeColor": "#d6d6d6", "fillColor": "#ffffff", "padding": 5, "cornerRadius": 3, "columnPadding": 11, "rowPadding": 2, "labelOffset": 17, "titlePadding": 1}}}},
  {"data": {"name": "box"}, "transform": [{"filter": "datum.p == 'small'"}], "mark": {"type": "tick", "color": "#424242", "thickness": 1.5, "size": 8.3},
   "encoding": {"y": {"field": "md", "type": "quantitative", "title": "Neutrality", "scale": {"domain": [0.6888, 0.742], "nice": false, "zero": false}}}},
  {"data": {"name": "out"}, "transform": [{"filter": "datum.p == 'small'"}], "mark": {"type": "point", "shape": "M0,-1L0.6,0L0,1L-0.6,0Z", "filled": true, "color": "#424242", "size": 34, "opacity": 1},
   "encoding": {"y": {"field": "v", "type": "quantitative", "title": "Neutrality", "scale": {"domain": [0.6888, 0.742], "nice": false, "zero": false}}}}
 ]},
{"title": "medium (δ = 0.047)", "width": 526, "height": 252,
 "encoding": {"x": {"field": "w", "type": "ordinal", "title": "Walk length", "scale": {"paddingInner": 0.2, "paddingOuter": 0.1}}, "xOffset": {"field": "n", "type": "ordinal", "scale": {"paddingInner": 0, "paddingOuter": 0}}},
 "layer": [
  {"data": {"name": "box"}, "transform": [{"filter": "datum.p == 'medium'"}], "mark": {"type": "rule", "color": "#424242", "strokeWidth": 1.5},
   "encoding": {"y": {"field": "lo", "type": "quantitative", "title": null, "scale": {"domain": [0.91434, 0.96029], "nice": false, "zero": false}, "axis": {"values": [0.92, 0.93, 0.94, 0.95, 0.96], "format": ".3f"}}, "y2": {"field": "hi"}}},
  {"data": {"name": "box"}, "transform": [{"filter": "datum.p == 'medium'"}], "mark": {"type": "tick", "color": "#424242", "thickness": 1.5, "size": 4},
   "encoding": {"y": {"field": "lo", "type": "quantitative", "title": null, "scale": {"domain": [0.91434, 0.96029], "nice": false, "zero": false}}}},
  {"data": {"name": "box"}, "transform": [{"filter": "datum.p == 'medium'"}], "mark": {"type": "tick", "color": "#424242", "thickness": 1.5, "size": 4},
   "encoding": {"y": {"field": "hi", "type": "quantitative", "title": null, "scale": {"domain": [0.91434, 0.96029], "nice": false, "zero": false}}}},
  {"data": {"name": "box"}, "transform": [{"filter": "datum.p == 'medium'"}], "mark": {"type": "bar", "stroke": "#424242", "strokeWidth": 1.5, "width": {"band": 0.98}},
   "encoding": {"y": {"field": "q1", "type": "quantitative", "title": null, "scale": {"domain": [0.91434, 0.96029], "nice": false, "zero": false}}, "y2": {"field": "q3"},
    "color": {"field": "n", "type": "nominal"}}},
  {"data": {"name": "box"}, "transform": [{"filter": "datum.p == 'medium'"}], "mark": {"type": "tick", "color": "#424242", "thickness": 1.5, "size": 8.3},
   "encoding": {"y": {"field": "md", "type": "quantitative", "title": null, "scale": {"domain": [0.91434, 0.96029], "nice": false, "zero": false}}}},
  {"data": {"name": "out"}, "transform": [{"filter": "datum.p == 'medium'"}], "mark": {"type": "point", "shape": "M0,-1L0.6,0L0,1L-0.6,0Z", "filled": true, "color": "#424242", "size": 34, "opacity": 1},
   "encoding": {"y": {"field": "v", "type": "quantitative", "title": null, "scale": {"domain": [0.91434, 0.96029], "nice": false, "zero": false}}}}
 ]},
{"title": "large (δ = 0.173)", "width": 527, "height": 251,
 "encoding": {"x": {"field": "w", "type": "ordinal", "title": "Walk length", "scale": {"paddingInner": 0.2, "paddingOuter": 0.1}}, "xOffset": {"field": "n", "type": "ordinal", "scale": {"paddingInner": 0, "paddingOuter": 0}}},
 "layer": [
  {"data": {"name": "box"}, "transform": [{"filter": "datum.p == 'large'"}], "mark": {"type": "rule", "color": "#424242", "strokeWidth": 1.5},
   "encoding": {"y": {"field": "lo", "type": "quantitative", "title": "Neutrality", "scale": {"domain": [0.89813, 0.93156], "nice": false, "zero": false}, "axis": {"values": [0.9, 0.905, 0.91, 0.915, 0.92, 0.925, 0.93], "format": ".3f"}}, "y2": {"field": "hi"}}},
  {"data": {"name": "box"}, "transform": [{"filter": "datum.p == 'large'"}], "mark": {"type": "tick", "color": "#424242", "thickness": 1.5, "size": 4},
   "encoding": {"y": {"field": "lo", "type": "quantitative", "title": "Neutrality", "scale": {"domain": [0.89813, 0.93156], "nice": false, "zero": false}}}},
  {"data": {"name": "box"}, "transform": [{"filter": "datum.p == 'large'"}], "mark": {"type": "tick", "color": "#424242", "thickness": 1.5, "size": 4},
   "encoding": {"y": {"field": "hi", "type": "quantitative", "title": "Neutrality", "scale": {"domain": [0.89813, 0.93156], "nice": false, "zero": false}}}},
  {"data": {"name": "box"}, "transform": [{"filter": "datum.p == 'large'"}], "mark": {"type": "bar", "stroke": "#424242", "strokeWidth": 1.5, "width": {"band": 0.98}},
   "encoding": {"y": {"field": "q1", "type": "quantitative", "title": "Neutrality", "scale": {"domain": [0.89813, 0.93156], "nice": false, "zero": false}}, "y2": {"field": "q3"},
    "color": {"field": "n", "type": "nominal"}}},
  {"data": {"name": "box"}, "transform": [{"filter": "datum.p == 'large'"}], "mark": {"type": "tick", "color": "#424242", "thickness": 1.5, "size": 8.3},
   "encoding": {"y": {"field": "md", "type": "quantitative", "title": "Neutrality", "scale": {"domain": [0.89813, 0.93156], "nice": false, "zero": false}}}},
  {"data": {"name": "out"}, "transform": [{"filter": "datum.p == 'large'"}], "mark": {"type": "point", "shape": "M0,-1L0.6,0L0,1L-0.6,0Z", "filled": true, "color": "#424242", "size": 34, "opacity": 1},
   "encoding": {"y": {"field": "v", "type": "quantitative", "title": "Neutrality", "scale": {"domain": [0.89813, 0.93156], "nice": false, "zero": false}}}}
 ]},
{"title": "auto-sklearn (δ = 0.117)", "width": 526, "height": 251,
 "encoding": {"x": {"field": "w", "type": "ordinal", "title": "Walk length", "scale": {"paddingInner": 0.2, "paddingOuter": 0.1}}, "xOffset": {"field": "n", "type": "ordinal", "scale": {"paddingInner": 0, "paddingOuter": 0}}},
 "layer": [
  {"data": {"name": "box"}, "transform": [{"filter": "datum.p == 'auto'"}], "mark": {"type": "rule", "color": "#424242", "strokeWidth": 1.5},
   "encoding": {"y": {"field": "lo", "type": "quantitative", "title": null, "scale": {"domain": [0.91852, 0.9438], "nice": false, "zero": false}, "axis": {"values": [0.92, 0.925, 0.93, 0.935, 0.94], "format": ".3f"}}, "y2": {"field": "hi"}}},
  {"data": {"name": "box"}, "transform": [{"filter": "datum.p == 'auto'"}], "mark": {"type": "tick", "color": "#424242", "thickness": 1.5, "size": 4},
   "encoding": {"y": {"field": "lo", "type": "quantitative", "title": null, "scale": {"domain": [0.91852, 0.9438], "nice": false, "zero": false}}}},
  {"data": {"name": "box"}, "transform": [{"filter": "datum.p == 'auto'"}], "mark": {"type": "tick", "color": "#424242", "thickness": 1.5, "size": 4},
   "encoding": {"y": {"field": "hi", "type": "quantitative", "title": null, "scale": {"domain": [0.91852, 0.9438], "nice": false, "zero": false}}}},
  {"data": {"name": "box"}, "transform": [{"filter": "datum.p == 'auto'"}], "mark": {"type": "bar", "stroke": "#424242", "strokeWidth": 1.5, "width": {"band": 0.98}},
   "encoding": {"y": {"field": "q1", "type": "quantitative", "title": null, "scale": {"domain": [0.91852, 0.9438], "nice": false, "zero": false}}, "y2": {"field": "q3"},
    "color": {"field": "n", "type": "nominal"}}},
  {"data": {"name": "box"}, "transform": [{"filter": "datum.p == 'auto'"}], "mark": {"type": "tick", "color": "#424242", "thickness": 1.5, "size": 8.3},
   "encoding": {"y": {"field": "md", "type": "quantitative", "title": null, "scale": {"domain": [0.91852, 0.9438], "nice": false, "zero": false}}}},
  {"data": {"name": "out"}, "transform": [{"filter": "datum.p == 'auto'"}], "mark": {"type": "point", "shape": "M0,-1L0.6,0L0,1L-0.6,0Z", "filled": true, "color": "#424242", "size": 34, "opacity": 1},
   "encoding": {"y": {"field": "v", "type": "quantitative", "title": null, "scale": {"domain": [0.91852, 0.9438], "nice": false, "zero": false}}}}
 ]}
],
"resolve": {"scale": {"x": "independent", "y": "independent", "xOffset": "independent", "color": "shared"}},
"config": {
 "font": "DejaVu Sans",
 "view": {"stroke": "#cccccc", "strokeWidth": 1.25},
 "axis": {"domain": false, "ticks": false, "tickSize": 0, "labelFontSize": 10, "labelColor": "#262626", "titleFontSize": 11, "titleFontWeight": "normal", "titleColor": "#262626", "gridColor": "#cccccc", "gridWidth": 1, "labelPadding": 5},
 "axisX": {"grid": false, "labelAngle": 0, "titlePadding": 3},
 "axisY": {"grid": true, "titlePadding": 5},
 "title": {"fontSize": 12.5, "fontWeight": "bold", "color": "#262626", "offset": 3}
}
}
